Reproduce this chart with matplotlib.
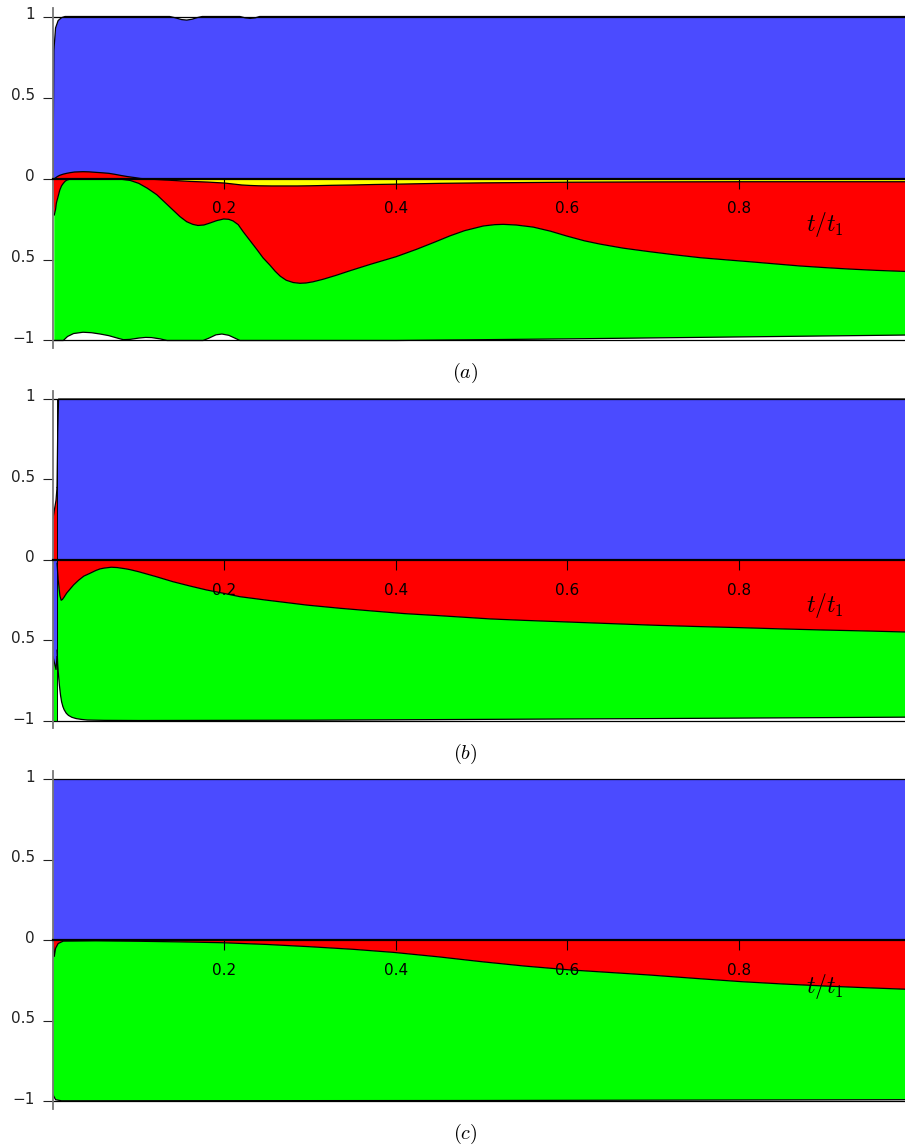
import numpy as np
import matplotlib
matplotlib.use('Agg')
import matplotlib.pyplot as plt
from matplotlib.transforms import ScaledTranslation

plt.rcParams['mathtext.fontset'] = 'cm'
plt.rcParams['font.family'] = ['DejaVu Sans']

BLUE = '#4B4BFF'
RED = '#FF0000'
GREEN = '#00FF00'
YELLOW = '#FFFF00'

x_ticks = [0.2, 0.4, 0.6, 0.8]
x_tick_labels = ['0.2', '0.4', '0.6', '0.8']
y_ticks = [-1, -0.5, 0, 0.5, 1]
y_tick_labels = ['\u22121', '0.5', '0', '0.5', '1']
captions = ['$(a)$', '$(b)$', '$(c)$']
x_label = '$t/t_1$'

# ---------------- panel (a) ----------------
a_blue_t = [0, 0.001, 0.003, 0.006, 0.01, 0.014, 0.136, 0.142, 0.15, 0.156, 0.162, 0.168, 0.174,
            0.218, 0.224, 0.23, 0.236, 0.241, 1.0]
a_blue_v = [0, 0.79, 0.93, 0.975, 0.993, 1.0, 1.0, 0.993, 0.981, 0.978, 0.983, 0.993, 1.0,
            1.0, 0.992, 0.988, 0.992, 1.0, 1.0]

a_red_t = [0, 0.002, 0.005, 0.008, 0.012, 0.016, 0.02, 0.025, 0.03, 0.035, 0.042, 0.05, 0.058, 0.065,
           0.072, 0.08, 0.088, 0.095, 0.102, 0.11, 0.12, 0.13, 0.14, 0.15, 0.16, 0.17,
           0.18, 0.19, 0.2, 0.21, 0.22, 0.23, 0.24, 0.255, 0.27, 0.285, 0.3, 0.325, 0.35, 0.375, 0.4,
           0.45, 0.5, 0.55, 0.6, 0.7, 0.8, 0.9, 1.0]
a_red_v = [0, 0.0, 0.012, 0.02, 0.027, 0.032, 0.036, 0.04, 0.041, 0.042, 0.041, 0.038, 0.035, 0.032,
           0.026, 0.018, 0.011, 0.006, 0.0, -0.003, -0.006, -0.009, -0.012, -0.015, -0.018, -0.02,
           -0.022, -0.025, -0.028, -0.034, -0.04, -0.043, -0.045, -0.046, -0.046, -0.046, -0.045,
           -0.042, -0.04, -0.037, -0.035, -0.03, -0.027, -0.025, -0.023, -0.021, -0.02, -0.02, -0.02]

a_green_top_t = [0.0015, 0.003, 0.004, 0.006, 0.008, 0.01, 0.012, 0.014, 0.016, 0.02, 0.05, 0.08,
                 0.09, 0.1, 0.11, 0.121, 0.13, 0.14, 0.148, 0.156, 0.163, 0.169, 0.176, 0.183, 0.191,
                 0.199, 0.205, 0.21, 0.216, 0.222, 0.23, 0.238, 0.245, 0.253, 0.259, 0.265, 0.272,
                 0.28, 0.288, 0.295, 0.303, 0.315, 0.33, 0.346, 0.37, 0.4, 0.424, 0.445, 0.463, 0.48,
                 0.502, 0.515, 0.525, 0.54, 0.56, 0.58, 0.599, 0.62, 0.638, 0.665, 0.696, 0.725,
                 0.755, 0.785, 0.813, 0.842, 0.871, 0.9, 0.929, 0.96, 1.0]
a_green_top_v = [-0.225, -0.19, -0.15, -0.11, -0.07, -0.045, -0.03, -0.018, -0.01, -0.004, -0.003,
                 -0.005, -0.012, -0.03, -0.06, -0.1, -0.145, -0.195, -0.235, -0.267, -0.283, -0.29,
                 -0.287, -0.275, -0.26, -0.25, -0.252, -0.262, -0.285, -0.33, -0.385, -0.44, -0.49,
                 -0.535, -0.572, -0.603, -0.628, -0.642, -0.647, -0.645, -0.638, -0.622, -0.598,
                 -0.57, -0.53, -0.483, -0.437, -0.393, -0.354, -0.322, -0.293, -0.285, -0.283,
                 -0.287, -0.3, -0.325, -0.355, -0.385, -0.405, -0.43, -0.452, -0.471, -0.489, -0.502,
                 -0.514, -0.527, -0.54, -0.55, -0.559, -0.567, -0.575]

a_green_bot_t = [0.0015, 0.012, 0.017, 0.024, 0.035, 0.045, 0.055, 0.065, 0.075, 0.082, 0.09, 0.1,
                 0.108, 0.115, 0.125, 0.133, 0.175, 0.182, 0.19, 0.197, 0.205, 0.212, 0.218, 0.4,
                 0.6, 0.8, 1.0]
a_green_bot_v = [-1.0, -1.0, -0.975, -0.957, -0.949, -0.952, -0.96, -0.97, -0.985, -0.995, -0.993,
                 -0.985, -0.981, -0.982, -0.99, -1.0, -1.0, -0.985, -0.965, -0.96, -0.968, -0.985,
                 -1.0, -1.0, -0.99, -0.978, -0.966]

# ---------------- panel (b) ----------------
b_blue_t = [0.0047, 0.0055, 0.0065, 1.0]
b_blue_v = [0.45, 0.8, 1.0, 1.0]
b_strip_t = [0, 0.0035, 0.0047]
b_strip_red_v = [0.26, 0.37, 0.45]
b_strip_blue_v = [-0.6, -0.68, -0.6]

b_green_top_t = [0.0047, 0.006, 0.008, 0.0095, 0.011, 0.013, 0.016, 0.02, 0.024, 0.03, 0.036, 0.043,
                 0.05, 0.055, 0.06, 0.068, 0.075, 0.085, 0.09, 0.1, 0.12, 0.14, 0.16, 0.179, 0.2,
                 0.218, 0.25, 0.296, 0.335, 0.373, 0.41, 0.451, 0.51, 0.55, 0.6, 0.65, 0.7, 0.75,
                 0.8, 0.85, 0.9, 0.95, 1.0]
b_green_top_v = [-0.02, -0.12, -0.22, -0.25, -0.245, -0.23, -0.205, -0.18, -0.155, -0.125, -0.1,
                 -0.083, -0.065, -0.055, -0.05, -0.045, -0.047, -0.055, -0.06, -0.073, -0.103,
                 -0.135, -0.162, -0.186, -0.208, -0.228, -0.25, -0.28, -0.3, -0.317, -0.333, -0.346,
                 -0.366, -0.375, -0.385, -0.395, -0.405, -0.413, -0.42, -0.428, -0.435, -0.441,
                 -0.448]
b_green_bot_t = [0.0047, 0.0055, 0.0065, 0.0075, 0.0088, 0.010, 0.0115, 0.013, 0.0155, 0.018, 0.022,
                 0.027, 0.033, 0.04, 0.06, 0.1, 0.3, 0.5, 0.7, 1.0]
b_green_bot_v = [-0.56, -0.65, -0.72, -0.78, -0.84, -0.88, -0.91, -0.93, -0.952, -0.965, -0.977,
                 -0.985, -0.99, -0.994, -0.996, -0.997, -0.995, -0.99, -0.985, -0.976]

# ---------------- panel (c) ----------------
c_blue_t = [0, 1.0]
c_blue_v = [1.0, 1.0]
c_green_top_t = [0, 0.0015, 0.003, 0.006, 0.012, 0.05, 0.1, 0.15, 0.197, 0.25, 0.3, 0.35, 0.397,
                 0.45, 0.5, 0.55, 0.603, 0.65, 0.694, 0.75, 0.803, 0.85, 0.9, 0.95, 1.0]
c_green_top_v = [0.0, -0.1, -0.05, -0.02, -0.005, -0.003, -0.006, -0.01, -0.015, -0.026, -0.04,
                 -0.056, -0.075, -0.103, -0.133, -0.16, -0.184, -0.2, -0.215, -0.237, -0.257,
                 -0.271, -0.284, -0.295, -0.305]
c_green_bot_t = [0, 0.003, 0.01, 0.5, 1.0]
c_green_bot_v = [-0.96, -0.99, -0.997, -0.995, -0.99]

W, H = 905, 1147
fig = plt.figure(figsize=(W / 100, H / 100), dpi=100)

YMIN, YMAX = -1.0463, 1.0525
XMAX = 0.9936
zero_px = [178.5, 560.0, 940.3]
scale_px = [162.0, 161.0, 161.0]
cap_y = [373, 754, 1134]
left_px = 53


def band(ax, t_top, v_top, t_bot, v_bot, color):
    xs = np.concatenate([np.asarray(t_top, float), np.asarray(t_bot, float)[::-1]])
    ys = np.concatenate([np.asarray(v_top, float), np.asarray(v_bot, float)[::-1]])
    ax.fill(xs, ys, color=color, lw=0, zorder=1)


def outline(ax, t, v, lw=0.9):
    ax.plot(t, v, color='black', lw=lw, zorder=2, solid_joinstyle='round')


def make_axes(i):
    top = zero_px[i] - YMAX * scale_px[i]
    bot = zero_px[i] - YMIN * scale_px[i]
    ax = fig.add_axes([left_px / W, 1 - bot / H, (W - left_px) / W, (bot - top) / H])
    ax.set_xlim(0, XMAX)
    ax.set_ylim(YMIN, YMAX)
    ax.patch.set_alpha(0)
    for s in ['top', 'right']:
        ax.spines[s].set_visible(False)
    ax.spines['left'].set_position(('data', 0))
    ax.spines['bottom'].set_position(('data', 0))
    ax.spines['left'].set_color('#777777')
    ax.spines['left'].set_linewidth(1.3)
    ax.spines['bottom'].set_color('black')
    ax.spines['bottom'].set_linewidth(1.6)
    ax.spines['left'].set_zorder(3)
    ax.spines['bottom'].set_zorder(3)
    ax.set_xticks(x_ticks)
    ax.set_xticklabels(x_tick_labels)
    ax.set_yticks(y_ticks)
    ax.set_yticklabels(y_tick_labels)
    ax.tick_params(axis='x', direction='out', length=7, width=0.8, pad=9.5, labelsize=11,
                   colors='black')
    ax.tick_params(axis='y', direction='out', length=7, width=0.8, pad=6, labelsize=11,
                   colors='#222222')
    off = ScaledTranslation(0, 3.5 / 100, fig.dpi_scale_trans)
    for lab in ax.get_yticklabels():
        lab.set_transform(lab.get_transform() + off)
    ax.axhline(1, color='black', lw=0.9, zorder=2)
    ax.axhline(-1, color='black', lw=0.9, zorder=2)
    ax.text(0.9, -0.285, x_label, fontsize=17, ha='center', va='center', zorder=4)
    fig.text(465 / W, 1 - cap_y[i] / H, captions[i], fontsize=14.5, ha='center', va='center')
    return ax


# ---- (a)
ax = make_axes(0)
band(ax, a_blue_t, a_blue_v, [a_blue_t[0], a_blue_t[-1]], [0, 0], BLUE)
rt = np.asarray(a_red_t); rv = np.asarray(a_red_v)
ax.fill_between(rt, rv, 0, where=rv < 0, interpolate=True, color=YELLOW, lw=0, zorder=1)
band(ax, a_red_t, a_red_v, a_green_top_t, a_green_top_v, RED)
band(ax, a_green_top_t, a_green_top_v, a_green_bot_t, a_green_bot_v, GREEN)
outline(ax, a_blue_t, a_blue_v)
outline(ax, a_red_t, a_red_v)
outline(ax, a_green_top_t, a_green_top_v)
outline(ax, a_green_bot_t, a_green_bot_v)

# ---- (b)
ax = make_axes(1)
band(ax, b_blue_t, b_blue_v, [b_blue_t[0], b_blue_t[-1]], [0, 0], BLUE)
band(ax, b_strip_t, b_strip_red_v, [b_strip_t[0], b_strip_t[-1]], [0, 0], RED)
band(ax, b_strip_t, [0, 0, 0], b_strip_t, b_strip_blue_v, BLUE)
band(ax, b_strip_t, b_strip_blue_v, [b_strip_t[0], b_strip_t[-1]], [-1, -1], GREEN)
band(ax, [b_green_top_t[0], b_green_top_t[-1]], [0, 0], b_green_top_t, b_green_top_v, RED)
band(ax, b_green_top_t, b_green_top_v, b_green_bot_t, b_green_bot_v, GREEN)
outline(ax, b_blue_t, b_blue_v)
outline(ax, b_strip_t, b_strip_red_v)
outline(ax, b_strip_t, b_strip_blue_v)
outline(ax, b_green_top_t, b_green_top_v)
outline(ax, b_green_bot_t, b_green_bot_v)
ax.plot([b_blue_t[0], b_blue_t[0]], [-1, 1], color='black', lw=0.7, zorder=2)

# ---- (c)
ax = make_axes(2)
band(ax, c_blue_t, c_blue_v, [c_blue_t[0], c_blue_t[-1]], [0, 0], BLUE)
band(ax, [c_green_top_t[0], c_green_top_t[-1]], [0, 0], c_green_top_t, c_green_top_v, RED)
band(ax, c_green_top_t, c_green_top_v, c_green_bot_t, c_green_bot_v, GREEN)
outline(ax, c_green_top_t, c_green_top_v)
outline(ax, c_green_bot_t, c_green_bot_v)

fig.savefig('out.png', dpi=100)
